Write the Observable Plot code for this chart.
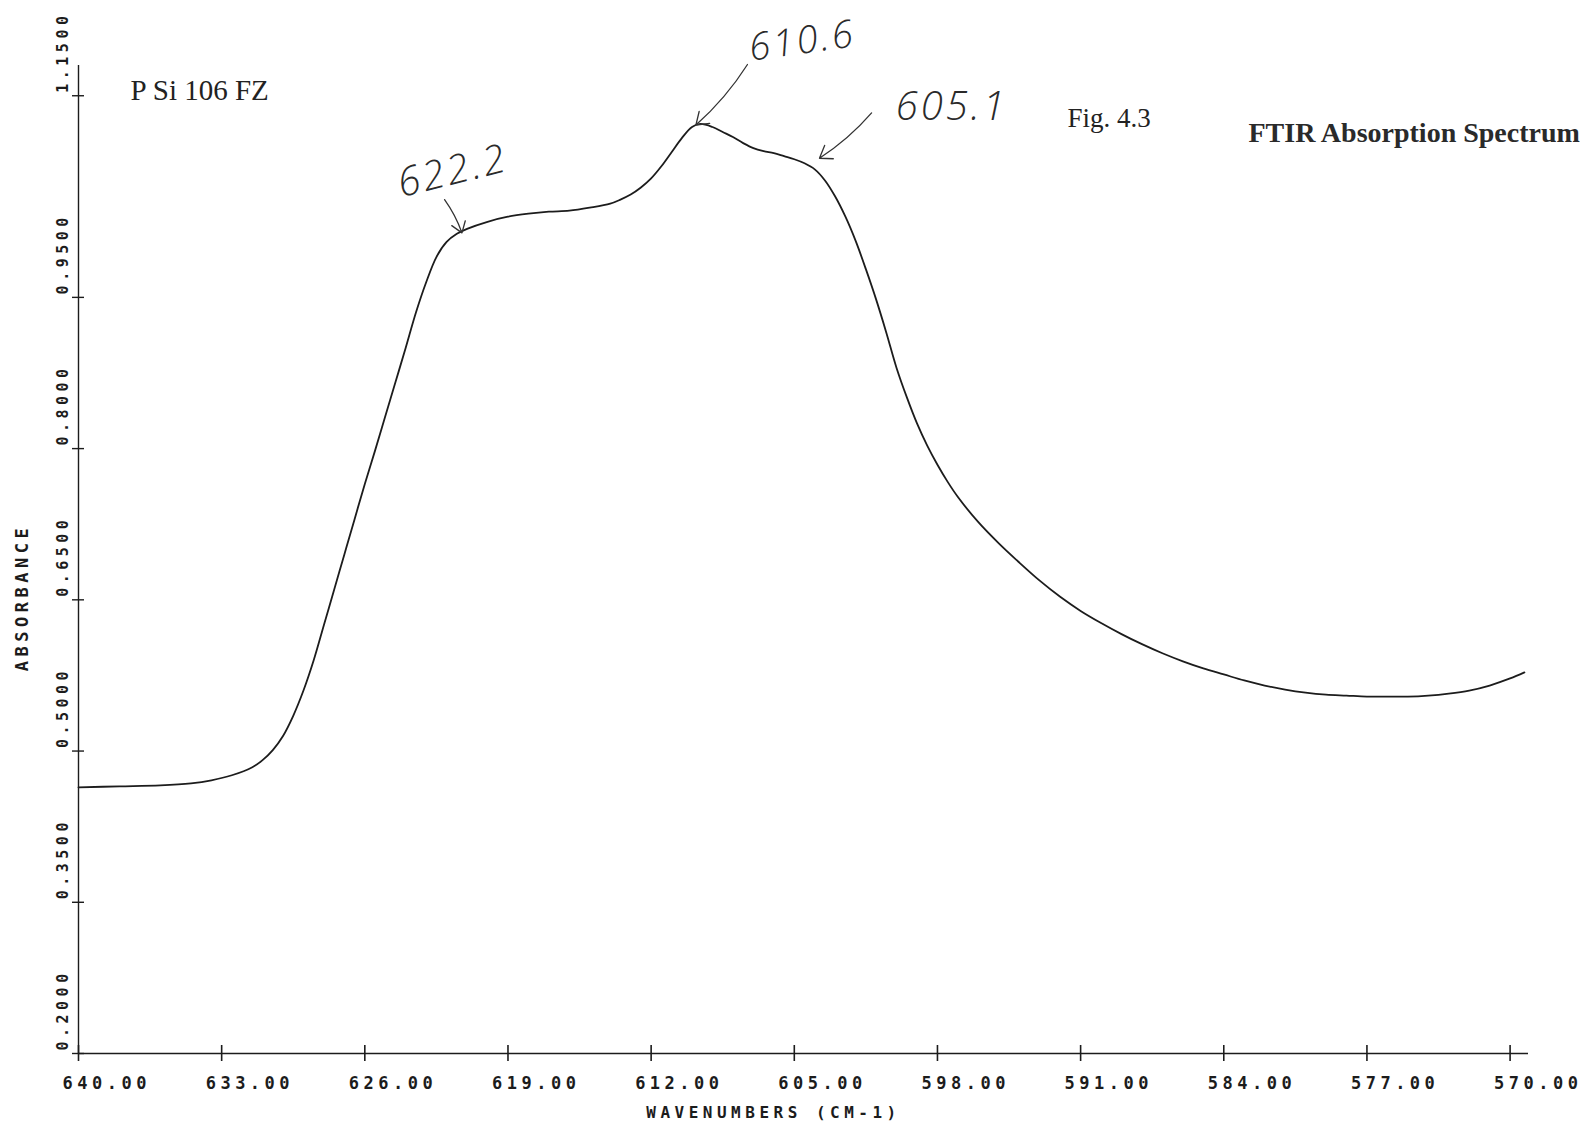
<!DOCTYPE html>
<html>
<head>
<meta charset="utf-8">
<script src="https://cdn.jsdelivr.net/npm/d3@7"></script>
<script src="https://cdn.jsdelivr.net/npm/@observablehq/plot@0.6"></script>
<style>
  html, body { margin: 0; padding: 0; background: #fff; }
  #chart svg { display: block; }
</style>
</head>
<body>
<div id="chart"></div>
<script>
// ---- Data ----
const wavenumbers = [
  640.0, 638.0, 636.0, 634.5, 633.5, 632.5, 631.5, 631.0, 630.5, 630.0,
  629.5, 629.0, 628.5, 628.0, 627.5, 627.0, 626.5, 626.0, 625.5, 625.0,
  624.5, 624.0, 623.5, 623.0, 622.5, 622.0, 621.5, 621.0, 620.0, 619.0,
  618.0, 617.0, 616.0, 615.0, 614.0, 613.5, 613.0, 612.5, 612.0, 611.5,
  611.0, 610.5, 610.0, 609.6, 609.0, 608.5, 608.0, 607.5, 607.0, 606.5,
  606.0, 605.5, 605.0, 604.5, 604.0, 603.5, 603.0, 602.5, 602.0, 601.5,
  601.0, 600.5, 600.0, 599.5, 599.0, 598.5, 598.0, 597.5, 597.0, 596.0,
  595.0, 594.0, 593.0, 592.0, 591.0, 590.0, 589.0, 588.0, 587.0, 586.0,
  585.0, 584.0, 583.0, 582.0, 581.0, 580.0, 579.0, 578.0, 577.0, 576.0,
  575.0, 574.0, 573.0, 572.0, 571.0, 570.0, 569.3
];
const absorbance = [
  0.464, 0.465, 0.466, 0.468, 0.471, 0.476, 0.484, 0.491, 0.501, 0.515,
  0.535, 0.560, 0.590, 0.625, 0.660, 0.695, 0.730, 0.765, 0.798, 0.832,
  0.866, 0.900, 0.935, 0.965, 0.990, 1.005, 1.013, 1.018, 1.025, 1.030,
  1.033, 1.035, 1.036, 1.039, 1.043, 1.047, 1.052, 1.059, 1.068, 1.080,
  1.094, 1.108, 1.119, 1.122, 1.119, 1.114, 1.109, 1.103, 1.098, 1.095,
  1.093, 1.090, 1.087, 1.083, 1.077, 1.066, 1.050, 1.030, 1.006, 0.978,
  0.948, 0.915, 0.880, 0.851, 0.825, 0.803, 0.784, 0.767, 0.752, 0.727,
  0.706, 0.687, 0.669, 0.653, 0.639, 0.627, 0.616, 0.606, 0.597, 0.589,
  0.582, 0.576, 0.570, 0.565, 0.561, 0.558, 0.556, 0.555, 0.554, 0.554,
  0.554, 0.555, 0.557, 0.560, 0.565, 0.572, 0.578
];
const xTickValues = [640, 633, 626, 619, 612, 605, 598, 591, 584, 577, 570];
const yTickValues = [0.20, 0.35, 0.50, 0.65, 0.80, 0.95, 1.15];
const xDomain = [640, 569.1];
const yDomain = [0.20, 1.18];

// Hand-written peak annotations (label, label position, arrow tail, arrow head) in data units
const peakLabels = ["622.2", "610.6", "605.1"];
const peakLabelX = [621.7, 604.6, 597.3];
const peakLabelY = [1.075, 1.204, 1.139];
const arrowTailX = [622.10, 607.29, 601.22];
const arrowTailY = [1.047, 1.181, 1.133];
const arrowHeadX = [621.25, 609.81, 603.77];
const arrowHeadY = [1.014, 1.121, 1.088];

const xAxisTitle = "WAVENUMBERS (CM-1)";
const yAxisTitle = "ABSORBANCE";
const sampleTitle = "P Si 106 FZ";
const figTitle = "Fig. 4.3";
const mainTitle = "FTIR Absorption Spectrum";

// ---- Build ----
const spectrum = wavenumbers.map((w, i) => ({w, a: absorbance[i]}));
const peaks = peakLabels.map((t, i) => ({
  t, x: peakLabelX[i], y: peakLabelY[i],
  x1: arrowTailX[i], y1: arrowTailY[i], x2: arrowHeadX[i], y2: arrowHeadY[i]
}));

const mono = "'DejaVu Sans Mono', 'Liberation Mono', monospace";
const serif = "'Liberation Serif', 'DejaVu Serif', serif";
const hand = "'Open Sans', 'DejaVu Sans', sans-serif";
const ink = "#1c1c1c";

const chart = Plot.plot({
  width: 1594,
  height: 1137,
  marginLeft: 78,
  marginRight: 66,
  marginTop: 65,
  marginBottom: 84,
  x: {domain: xDomain, axis: null},
  y: {domain: yDomain, axis: null},
  style: {background: "#fff", color: ink},
  marks: [
    // axes lines
    Plot.ruleY([yDomain[0]], {x1: xDomain[0], x2: xDomain[1], stroke: ink, strokeWidth: 1.6}),
    Plot.ruleX([xDomain[0]], {y1: yDomain[0], y2: yDomain[1], stroke: ink, strokeWidth: 1.4}),
    // crossing ticks
    Plot.ruleX(xTickValues, {x: d => d, y1: yDomain[0], y2: yDomain[0], insetTop: -8, insetBottom: -8, stroke: ink, strokeWidth: 1.6}),
    Plot.ruleY(yTickValues, {y: d => d, x1: xDomain[0], x2: xDomain[0], insetLeft: -6, insetRight: -6, stroke: ink, strokeWidth: 1.4}),
    // tick labels
    Plot.text(xTickValues, {
      x: d => d, y: yDomain[0], text: d => d.toFixed(2),
      dx: -16, dy: 30, textAnchor: "start",
      fontFamily: mono, fontWeight: "bold", fontSize: 17, fill: ink
    }),
    Plot.text(yTickValues, {
      x: xDomain[0], y: d => d, text: d => d.toFixed(4),
      dx: -15, dy: -3, rotate: -90, textAnchor: "start",
      fontFamily: mono, fontWeight: "bold", fontSize: 15, fill: ink
    }),
    // axis titles
    Plot.text([xAxisTitle], {
      frameAnchor: "bottom", dx: -30, dy: 64, textAnchor: "middle", text: d => d,
      fontFamily: mono, fontWeight: "bold", fontSize: 16, fill: ink
    }),
    Plot.text([yAxisTitle], {
      frameAnchor: "left", dx: -56, dy: 38, rotate: -90, textAnchor: "middle", text: d => d,
      fontFamily: mono, fontWeight: "bold", fontSize: 17, fill: ink
    }),
    // spectrum
    Plot.line(spectrum, {x: "w", y: "a", curve: "catmull-rom", stroke: ink, strokeWidth: 1.8}),
    // printed labels
    Plot.text([sampleTitle], {
      frameAnchor: "top-left", dx: 52, dy: 14, textAnchor: "start", text: d => d,
      fontFamily: serif, fontSize: 29, fill: "#222"
    }),
    Plot.text([figTitle], {
      frameAnchor: "top-left", dx: 989, dy: 42, textAnchor: "start", text: d => d,
      fontFamily: serif, fontSize: 27, fill: "#222"
    }),
    Plot.text([mainTitle], {
      frameAnchor: "top-left", dx: 1170, dy: 57, textAnchor: "start", text: d => d,
      fontFamily: serif, fontSize: 28, fontWeight: "bold", fill: "#2a2a2a"
    }),
    // hand-written annotations
    Plot.arrow(peaks, {x1: "x1", y1: "y1", x2: "x2", y2: "y2", bend: 8, headLength: 16, headAngle: 70, stroke: "#333", strokeWidth: 1.3}),
    Plot.text(peaks.filter(d => d.t === "622.2"), {x: "x", y: "y", text: "t", rotate: -14,
      fontFamily: hand, fontStyle: "italic", fontWeight: 300, fontSize: 40, fill: "#2a2a2a"}),
    Plot.text(peaks.filter(d => d.t === "610.6"), {x: "x", y: "y", text: "t", rotate: -8,
      fontFamily: hand, fontStyle: "italic", fontWeight: 300, fontSize: 38, fill: "#2a2a2a"}),
    Plot.text(peaks.filter(d => d.t === "605.1"), {x: "x", y: "y", text: "t", rotate: 0,
      fontFamily: hand, fontStyle: "italic", fontWeight: 300, fontSize: 40, fill: "#2a2a2a"})
  ]
});

document.getElementById("chart").appendChild(chart);

// plotter-style letter spacing
d3.select(chart).selectAll("g[font-family*='Mono'] text").style("letter-spacing", "4.5px");
d3.select(chart).selectAll("g[font-family*='Open Sans'] text").style("letter-spacing", "3px");
</script>
</body>
</html>
